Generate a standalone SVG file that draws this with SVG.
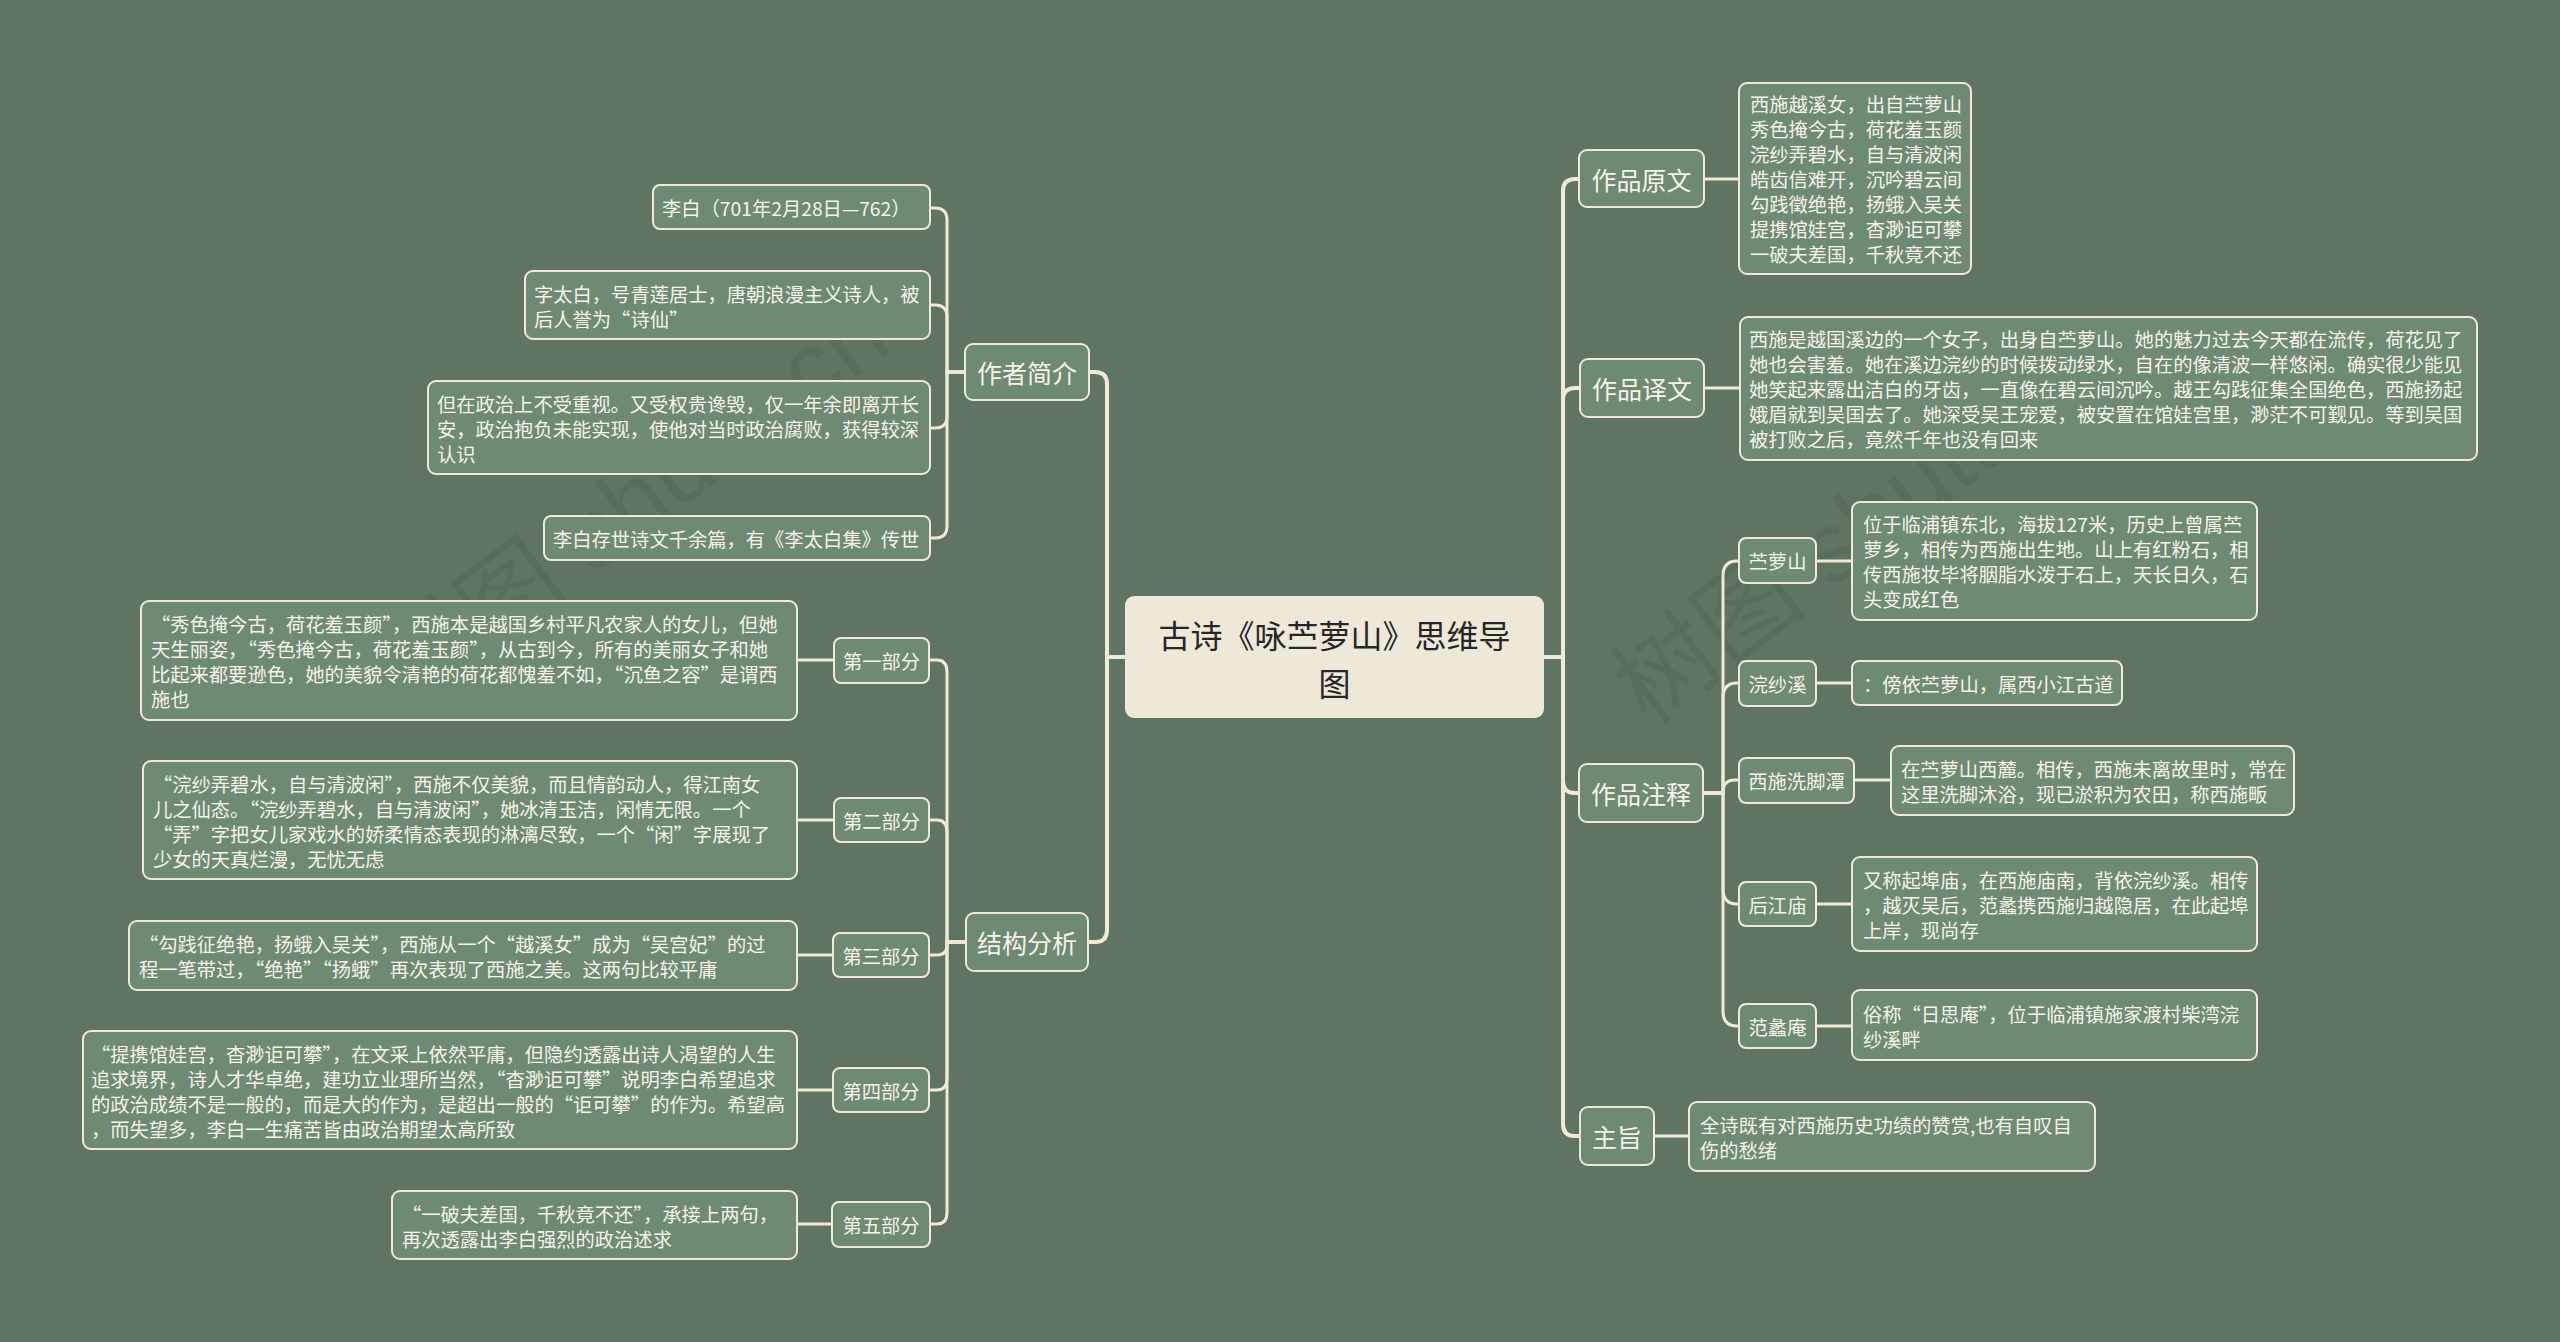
<svg xmlns="http://www.w3.org/2000/svg" width="2560" height="1342" viewBox="0 0 2560 1342">
<style>
.bg{fill:#5f7463}
.wm{font-family:"Liberation Sans","Noto Sans CJK SC",sans-serif;font-size:100px;fill:#000;fill-opacity:0.06}
.n{fill:#6e8a73;stroke:#efe9d6;stroke-width:2}
.root{fill:#eee8d8}
.t{font-family:"Noto Sans CJK SC",sans-serif;font-size:19.3px;fill:#f6f3ea;dominant-baseline:central}
.t1{font-family:"Noto Sans CJK SC",sans-serif;font-size:25px;fill:#f6f3ea;dominant-baseline:central;text-anchor:middle}
.t2{font-family:"Noto Sans CJK SC",sans-serif;font-size:19.3px;fill:#f6f3ea;dominant-baseline:central;text-anchor:middle}
.tr{font-family:"Noto Sans CJK SC",sans-serif;font-size:32px;fill:#262626;dominant-baseline:central;text-anchor:middle}
.c{fill:none;stroke:#efe9d6;stroke-linecap:round}
.c4{stroke-width:4}
.c3{stroke-width:3}
</style>
<rect class="bg" x="0" y="0" width="2560" height="1342"/>
<g id="watermarks">
<text class="wm" transform="translate(653,530) rotate(-37)" text-anchor="middle">树图 shutu.cn</text>
<text class="wm" transform="translate(1890,545) rotate(-37)" text-anchor="middle">树图 shutu.cn</text>
</g>
<g id="connectors">
<path class="c c4" d="M1125,657 H1107 V384 Q1107,372 1095,372 H1089"/>
<path class="c c4" d="M1125,657 H1107 V930 Q1107,942 1095,942 H1089"/>
<path class="c c4" d="M1544,657 H1563 V191 Q1563,179 1575,179 H1579"/>
<path class="c c4" d="M1544,657 H1563 V400 Q1563,388 1575,388 H1580"/>
<path class="c c4" d="M1544,657 H1563 V781 Q1563,793 1575,793 H1579"/>
<path class="c c4" d="M1544,657 H1563 V1124 Q1563,1136 1575,1136 H1580"/>
<path class="c c3" d="M965,372 H947 V220 Q947,208 935,208 H930"/>
<path class="c c3" d="M965,372 H947 V317 Q947,305 935,305 H930"/>
<path class="c c3" d="M965,372 H947 V416 Q947,428 935,428 H930"/>
<path class="c c3" d="M965,372 H947 V526 Q947,538 935,538 H930"/>
<path class="c c3" d="M966,942 H947 V672 Q947,660 937,660 H929"/>
<path class="c c3" d="M966,942 H947 V832 Q947,820 937,820 H929"/>
<path class="c c3" d="M966,942 H947 V945 Q947,955 937,955 H929"/>
<path class="c c3" d="M966,942 H947 V1078 Q947,1090 937,1090 H929"/>
<path class="c c3" d="M966,942 H947 V1212 Q947,1224 937,1224 H930"/>
<path class="c c3" d="M1703,793 H1723 V576 Q1723,561 1737,561 H1739"/>
<path class="c c3" d="M1703,793 H1723 V698 Q1723,683 1737,683 H1739"/>
<path class="c c3" d="M1703,793 H1723 V792 Q1723,780 1735,780 H1739"/>
<path class="c c3" d="M1703,793 H1723 V889 Q1723,904 1737,904 H1739"/>
<path class="c c3" d="M1703,793 H1723 V1011 Q1723,1026 1737,1026 H1739"/>
<path class="c c3" d="M1704,179 H1739"/>
<path class="c c3" d="M1704,388 H1740"/>
<path class="c c3" d="M1816,561 H1852"/>
<path class="c c3" d="M1816,683 H1852"/>
<path class="c c3" d="M1854,780 H1891"/>
<path class="c c3" d="M1816,904 H1852"/>
<path class="c c3" d="M1816,1026 H1852"/>
<path class="c c3" d="M1654,1136 H1689"/>
<path class="c c3" d="M834,660 H797"/>
<path class="c c3" d="M834,820 H797"/>
<path class="c c3" d="M833,955 H797"/>
<path class="c c3" d="M833,1090 H797"/>
<path class="c c3" d="M832,1224 H797"/>
</g>
<g id="root">
<rect class="root" x="1125" y="596" width="419" height="122" rx="9"/>
<text class="tr"><tspan x="1334.5" y="634">古诗《咏苎萝山》思维导</tspan><tspan x="1334.5" y="682">图</tspan></text>
</g>
<g id="n-zuopinyuanwen">
<rect class="n" x="1579" y="150" width="125" height="57" rx="8"/>
<text class="t1" x="1641.5" y="179">作品原文</text>
</g>
<g id="d-yuanwen">
<rect class="n" x="1739" y="83" width="232" height="191" rx="8"/>
<text class="t" x="1750"><tspan x="1750" y="104">西施越溪女，出自苎萝山</tspan><tspan x="1750" y="129">秀色掩今古，荷花羞玉颜</tspan><tspan x="1750" y="154">浣纱弄碧水，自与清波闲</tspan><tspan x="1750" y="179">皓齿信难开，沉吟碧云间</tspan><tspan x="1750" y="204">勾践徵绝艳，扬蛾入吴关</tspan><tspan x="1750" y="229">提携馆娃宫，杳渺讵可攀</tspan><tspan x="1750" y="254">一破夫差国，千秋竟不还</tspan></text>
</g>
<g id="n-zuopinyiwen">
<rect class="n" x="1580" y="359" width="124" height="58" rx="8"/>
<text class="t1" x="1642" y="388">作品译文</text>
</g>
<g id="d-yiwen">
<rect class="n" x="1740" y="317" width="737" height="143" rx="8"/>
<text class="t"><tspan x="1749" y="339">西施是越国溪边的一个女子，出身自苎萝山。她的魅力过去今天都在流传，荷花见了</tspan><tspan x="1749" y="364">她也会害羞。她在溪边浣纱的时候拨动绿水，自在的像清波一样悠闲。确实很少能见</tspan><tspan x="1749" y="389">她笑起来露出洁白的牙齿，一直像在碧云间沉吟。越王勾践征集全国绝色，西施扬起</tspan><tspan x="1749" y="414">娥眉就到吴国去了。她深受吴王宠爱，被安置在馆娃宫里，渺茫不可觐见。等到吴国</tspan><tspan x="1749" y="439">被打败之后，竟然千年也没有回来</tspan></text>
</g>
<g id="n-zuopinzhushi">
<rect class="n" x="1579" y="764" width="124" height="58" rx="8"/>
<text class="t1" x="1641" y="793">作品注释</text>
</g>
<g id="n-zhuluoshan">
<rect class="n" x="1739" y="538" width="77" height="45" rx="7"/>
<text class="t2" x="1777.5" y="561">苎萝山</text>
</g>
<g id="d-zhuluoshan">
<rect class="n" x="1852" y="502" width="405" height="118" rx="8"/>
<text class="t"><tspan x="1863" y="524">位于临浦镇东北，海拔127米，历史上曾属苎</tspan><tspan x="1863" y="549">萝乡，相传为西施出生地。山上有红粉石，相</tspan><tspan x="1863" y="574">传西施妆毕将胭脂水泼于石上，天长日久，石</tspan><tspan x="1863" y="599">头变成红色</tspan></text>
</g>
<g id="n-huanshaxi">
<rect class="n" x="1739" y="661" width="77" height="45" rx="7"/>
<text class="t2" x="1777.5" y="684">浣纱溪</text>
</g>
<g id="d-huanshaxi">
<rect class="n" x="1852" y="661" width="270" height="44" rx="7"/>
<text class="t" x="1863" y="684">：傍依苎萝山，属西小江古道</text>
</g>
<g id="n-xishixijiaotan">
<rect class="n" x="1739" y="758" width="115" height="45" rx="7"/>
<text class="t2" x="1796.5" y="781">西施洗脚潭</text>
</g>
<g id="d-xishixijiaotan">
<rect class="n" x="1891" y="746" width="403" height="69" rx="8"/>
<text class="t"><tspan x="1901" y="769">在苎萝山西麓。相传，西施未离故里时，常在</tspan><tspan x="1901" y="794">这里洗脚沐浴，现已淤积为农田，称西施畈</tspan></text>
</g>
<g id="n-houjiangmiao">
<rect class="n" x="1739" y="882" width="77" height="44" rx="7"/>
<text class="t2" x="1777.5" y="905">后江庙</text>
</g>
<g id="d-houjiangmiao">
<rect class="n" x="1852" y="857" width="405" height="94" rx="8"/>
<text class="t"><tspan x="1863" y="880">又称起埠庙，在西施庙南，背依浣纱溪。相传</tspan><tspan x="1863" y="905">，越灭吴后，范蠡携西施归越隐居，在此起埠</tspan><tspan x="1863" y="930">上岸，现尚存</tspan></text>
</g>
<g id="n-fanlian">
<rect class="n" x="1739" y="1004" width="77" height="44" rx="7"/>
<text class="t2" x="1777.5" y="1027">范蠡庵</text>
</g>
<g id="d-fanlian">
<rect class="n" x="1852" y="990" width="405" height="70" rx="8"/>
<text class="t"><tspan x="1863" y="1014">俗称“日思庵”，位于临浦镇施家渡村柴湾浣</tspan><tspan x="1863" y="1039">纱溪畔</tspan></text>
</g>
<g id="n-zhuzhi">
<rect class="n" x="1580" y="1107" width="74" height="58" rx="8"/>
<text class="t1" x="1617" y="1136">主旨</text>
</g>
<g id="d-zhuzhi">
<rect class="n" x="1689" y="1102" width="406" height="69" rx="8"/>
<text class="t"><tspan x="1700" y="1125">全诗既有对西施历史功绩的赞赏,也有自叹自</tspan><tspan x="1700" y="1150">伤的愁绪</tspan></text>
</g>
<g id="n-zuozhejianjie">
<rect class="n" x="965" y="344" width="124" height="56" rx="8"/>
<text class="t1" x="1027" y="372">作者简介</text>
</g>
<g id="d-libai">
<rect class="n" x="653" y="185" width="277" height="44" rx="7"/>
<text class="t" x="662" y="208">李白（701年2月28日—762）</text>
</g>
<g id="d-zitaibai">
<rect class="n" x="525" y="271" width="405" height="68" rx="8"/>
<text class="t"><tspan x="534" y="294">字太白，号青莲居士，唐朝浪漫主义诗人，被</tspan><tspan x="534" y="319">后人誉为“诗仙”</tspan></text>
</g>
<g id="d-zhengzhi">
<rect class="n" x="428" y="381" width="502" height="93" rx="8"/>
<text class="t"><tspan x="437" y="404">但在政治上不受重视。又受权贵谗毁，仅一年余即离开长</tspan><tspan x="437" y="429">安，政治抱负未能实现，使他对当时政治腐败，获得较深</tspan><tspan x="437" y="454">认识</tspan></text>
</g>
<g id="d-cunshi">
<rect class="n" x="544" y="516" width="386" height="44" rx="7"/>
<text class="t" x="553" y="539">李白存世诗文千余篇，有《李太白集》传世</text>
</g>
<g id="n-jiegoufenxi">
<rect class="n" x="966" y="913" width="122" height="58" rx="8"/>
<text class="t1" x="1027" y="942">结构分析</text>
</g>
<g id="n-part1">
<rect class="n" x="834" y="638" width="95" height="45" rx="7"/>
<text class="t2" x="881.5" y="661">第一部分</text>
</g>
<g id="d-part1">
<rect class="n" x="141" y="601" width="656" height="119" rx="8"/>
<text class="t"><tspan x="151" y="624">“秀色掩今古，荷花羞玉颜”，西施本是越国乡村平凡农家人的女儿，但她</tspan><tspan x="151" y="649">天生丽姿，“秀色掩今古，荷花羞玉颜”，从古到今，所有的美丽女子和她</tspan><tspan x="151" y="674">比起来都要逊色，她的美貌令清艳的荷花都愧羞不如，“沉鱼之容”是谓西</tspan><tspan x="151" y="699">施也</tspan></text>
</g>
<g id="n-part2">
<rect class="n" x="834" y="798" width="95" height="44" rx="7"/>
<text class="t2" x="881.5" y="821">第二部分</text>
</g>
<g id="d-part2">
<rect class="n" x="143" y="761" width="654" height="118" rx="8"/>
<text class="t"><tspan x="153" y="784">“浣纱弄碧水，自与清波闲”，西施不仅美貌，而且情韵动人，得江南女</tspan><tspan x="153" y="809">儿之仙态。“浣纱弄碧水，自与清波闲”，她冰清玉洁，闲情无限。一个</tspan><tspan x="153" y="834">“弄”字把女儿家戏水的娇柔情态表现的淋漓尽致，一个“闲”字展现了</tspan><tspan x="153" y="859">少女的天真烂漫，无忧无虑</tspan></text>
</g>
<g id="n-part3">
<rect class="n" x="833" y="933" width="96" height="44" rx="7"/>
<text class="t2" x="881" y="956">第三部分</text>
</g>
<g id="d-part3">
<rect class="n" x="129" y="921" width="668" height="69" rx="8"/>
<text class="t"><tspan x="139" y="944">“勾践征绝艳，扬蛾入吴关”，西施从一个“越溪女”成为“吴宫妃”的过</tspan><tspan x="139" y="969">程一笔带过，“绝艳”“扬蛾”再次表现了西施之美。这两句比较平庸</tspan></text>
</g>
<g id="n-part4">
<rect class="n" x="833" y="1068" width="96" height="44" rx="7"/>
<text class="t2" x="881" y="1091">第四部分</text>
</g>
<g id="d-part4">
<rect class="n" x="83" y="1031" width="714" height="118" rx="8"/>
<text class="t"><tspan x="91" y="1054">“提携馆娃宫，杳渺讵可攀”，在文采上依然平庸，但隐约透露出诗人渴望的人生</tspan><tspan x="91" y="1079">追求境界，诗人才华卓绝，建功立业理所当然，“杳渺讵可攀”说明李白希望追求</tspan><tspan x="91" y="1104">的政治成绩不是一般的，而是大的作为，是超出一般的“讵可攀”的作为。希望高</tspan><tspan x="91" y="1129">，而失望多，李白一生痛苦皆由政治期望太高所致</tspan></text>
</g>
<g id="n-part5">
<rect class="n" x="832" y="1202" width="98" height="45" rx="7"/>
<text class="t2" x="881" y="1225">第五部分</text>
</g>
<g id="d-part5">
<rect class="n" x="392" y="1191" width="405" height="68" rx="8"/>
<text class="t"><tspan x="402" y="1214">“一破夫差国，千秋竟不还”，承接上两句，</tspan><tspan x="402" y="1239">再次透露出李白强烈的政治述求</tspan></text>
</g>
</svg>
